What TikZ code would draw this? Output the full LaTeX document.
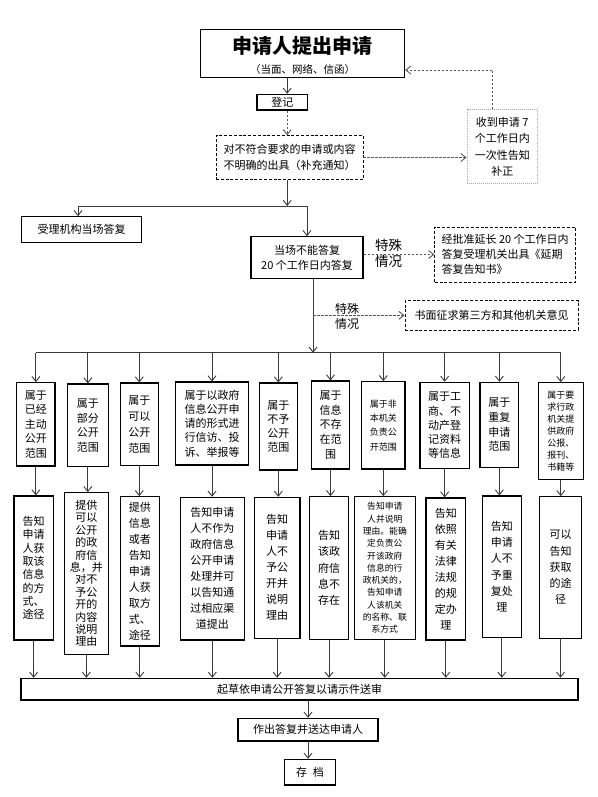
\documentclass[tikz,border=0pt]{standalone}
\usepackage{fontspec}
\setmainfont{Noto Sans CJK SC}
\usetikzlibrary{arrows.meta}
\definecolor{lncol}{HTML}{3A3A3A}
\definecolor{dlcol}{HTML}{555555}
\definecolor{blcol}{HTML}{8EA9DB}
\tikzset{
 box/.style={draw=black, line width=1.1pt, inner sep=0pt, align=center, font=\fontsize{11}{14.5}\selectfont},
 dbox/.style={box, dash pattern=on 3pt off 1.8pt, line width=0.9pt},
 conn/.style={draw=lncol, line width=0.9pt},
 arr/.style={conn, -{Straight Barb[length=5pt,width=8pt]}},
 darr/.style={arr, draw=dlcol, dash pattern=on 2.5pt off 1.5pt},
 lbl/.style={inner sep=0pt, align=center},
}
\begin{document}
\begin{tikzpicture}[x=1pt,y=-1pt]
\useasboundingbox (0,0) rectangle (597,797);
% top
\node[box, line width=1.3pt, minimum width=204pt, minimum height=48pt] (top) at (302.5,53.3) {};
\node[lbl, font=\fontsize{20}{20}\selectfont\bfseries] (title) at (302.5,45.7) {申请人提出申请};
\node[lbl, font=\fontsize{10.5}{12}\selectfont] (sub) at (302.5,70) {（当面、网络、信函）};
\coordinate (ax) at (287.2,0);
\node[box, minimum width=50.5pt, minimum height=15.7pt] (dj) at (282.25,102.2) {登记};
\draw[arr] (top.south -| ax) -- (dj.north -| ax);
\node[dbox, minimum width=147pt, minimum height=43.6pt, font=\fontsize{11}{15.7}\selectfont] (tz) at (289.5,157.5) {对不符合要求的申请或内容\\不明确的出具（补充通知）};
\draw[darr] (dj.south -| ax) -- (tz.north -| ax);
\node[box, draw=blcol, dash pattern=on 1pt off 1pt, line width=1pt, minimum width=70.5pt, minimum height=73.3pt, font=\fontsize{11}{16.5}\selectfont] (bz) at (502.25,146.65) {收到申请 7\\个工作日内\\一次性告知\\补正};
\draw[darr] (tz.east) -- (tz.east -| bz.west);
\draw[darr] ([xshift=-9.5pt]bz.north) |- ([yshift=-16.7pt]top.east);
% split
\coordinate (sp) at (287.2,206);
\draw[arr] (tz.south -| ax) -- (sp);
\node[box, minimum width=120.3pt, minimum height=25.6pt] (sl) at (81.55,229.5) {受理机构当场答复};
\node[box, minimum width=112pt, minimum height=41.6pt, font=\fontsize{11}{15}\selectfont] (dc) at (307,257.5) {当场不能答复\\20 个工作日内答复};
\coordinate (slt) at ([xshift=-3.5pt]sl.north);
\draw[conn] (slt |- sp) -- (dc.north |- sp);
\draw[arr] (slt |- sp) -- (slt);
\draw[arr] (dc.north |- sp) -- (dc.north);
% special 1
\node[lbl, font=\fontsize{13.5}{15.5}\selectfont] (ts1) at (388.5,253.5) {特殊\\情况};
\node[dbox, minimum width=140.9pt, minimum height=55pt, font=\fontsize{11}{15}\selectfont, align=left] (jp) at (505.15,254.5) {经批准延长 20 个工作日内\\答复受理机关出具《延期\\答复告知书》};
\draw[darr] (jp.west -| dc.east) -- (jp.west);
% special 2
\coordinate (dcs) at ([xshift=6pt]dc.south);
\coordinate (hy) at (0,352.7);
\coordinate (hb) at (dcs |- hy);
\draw[arr] (dcs) -- (hb);
\node[lbl, font=\fontsize{12}{15}\selectfont] (ts2) at (347,316.5) {特殊\\情况};
\node[dbox, minimum width=173pt, minimum height=29.3pt] (sm) at (491.5,315.35) {书面征求第三方和其他机关意见};
\draw[darr] (sm.west -| dcs) -- (sm.west);
% row 1
\node[box, minimum width=38.3pt, minimum height=83.3pt] (r1) at (35.85,424.35) {属于\\已经\\主动\\公开\\范围};
\node[box, minimum width=41pt, minimum height=82.7pt] (r2) at (87.8,425.35) {属于\\部分\\公开\\范围};
\node[box, minimum width=38pt, minimum height=82.7pt, font=\fontsize{11}{16}\selectfont] (r3) at (139.3,424.35) {属于\\可以\\公开\\范围};
\node[box, minimum width=72.6pt, minimum height=83pt, font=\fontsize{11}{14.2}\selectfont] (r4) at (212,423.5) {属于以政府\\信息公开申\\请的形式进\\行信访、投\\诉、举报等};
\node[box, minimum width=38pt, minimum height=87pt, font=\fontsize{11}{14}\selectfont] (r5) at (278.3,426.5) {属于\\不予\\公开\\范围};
\node[box, minimum width=37.6pt, minimum height=88pt, font=\fontsize{11}{14.6}\selectfont] (r6) at (330.5,425) {属于\\信息\\不存\\在范\\围};
\node[box, minimum width=43.3pt, minimum height=87.3pt, font=\fontsize{9}{14.3}\selectfont] (r7) at (383.35,425.35) {属于非\\本机关\\负责公\\开范围};
\node[box, minimum width=49.3pt, minimum height=86pt, font=\fontsize{11}{14.2}\selectfont] (r8) at (444.65,425.3) {属于工\\商、不\\动产登\\记资料\\等信息};
\node[box, minimum width=38.7pt, minimum height=85pt, font=\fontsize{11}{14.7}\selectfont] (r9) at (499.35,424.8) {属于\\重复\\申请\\范围};
\node[box, minimum width=45pt, minimum height=96.6pt, font=\fontsize{9}{12}\selectfont] (r10) at (560.8,431) {属于要\\求行政\\机关提\\供政府\\公报、\\报刊、\\书籍等};
% row 2
\node[box, minimum width=39.3pt, minimum height=144pt, font=\fontsize{11}{13.3}\selectfont] (s1) at (33.65,568) {告知\\申请\\人获\\取该\\信息\\的方\\式、\\途径};
\node[box, minimum width=44pt, minimum height=161.6pt, font=\fontsize{11}{12.4}\selectfont] (s2) at (86.3,573.5) {提供\\可以\\公开\\的政\\府信\\息，并\\对不\\予公\\开的\\内容\\说明\\理由};
\node[box, minimum width=39pt, minimum height=149.3pt, font=\fontsize{11}{16}\selectfont] (s3) at (139.8,571.35) {提供\\信息\\或者\\告知\\申请\\人获\\取方\\式、\\途径};
\node[box, minimum width=64pt, minimum height=142.7pt, font=\fontsize{11}{16}\selectfont] (s4) at (212.3,568.65) {告知申请\\人不作为\\政府信息\\公开申请\\处理并可\\以告知通\\过相应渠\\道提出};
\node[box, minimum width=45.7pt, minimum height=141pt, font=\fontsize{11}{16}\selectfont] (s5) at (277.15,567.8) {告知\\申请\\人不\\予公\\开并\\说明\\理由};
\node[box, minimum width=39.4pt, minimum height=142.6pt, font=\fontsize{11}{16.25}\selectfont] (s6) at (329,568) {告知\\该政\\府信\\息不\\存在};
\node[box, minimum width=61pt, minimum height=142.6pt, font=\fontsize{8.8}{12.3}\selectfont] (s7) at (384.8,568) {告知申请\\人并说明\\理由。能确\\定负责公\\开该政府\\信息的行\\政机关的，\\告知申请\\人该机关\\的名称、联\\系方式};
\node[box, minimum width=39.7pt, minimum height=142pt, font=\fontsize{11}{16}\selectfont] (s8) at (445.85,569) {告知\\依照\\有关\\法律\\法规\\的规\\定办\\理};
\node[box, minimum width=39pt, minimum height=141.3pt, font=\fontsize{11}{16.3}\selectfont] (s9) at (501.8,566.65) {告知\\申请\\人不\\予重\\复处\\理};
\node[box, minimum width=42.4pt, minimum height=141.6pt, font=\fontsize{11}{16.25}\selectfont] (s10) at (560.5,567.5) {可以\\告知\\获取\\的途\\径};
% bottom
\node[box, minimum width=557pt, minimum height=21.7pt] (big) at (299.5,689.15) {起草依申请公开答复以请示件送审};
\node[box, minimum width=140pt, minimum height=22.7pt] (zf) at (308,729.65) {作出答复并送达申请人};
\node[box, minimum width=50.8pt, minimum height=25.7pt] (cd) at (310,772.15) {存\hspace{6pt}档};
% connectors rows
\draw[conn] (r1.north |- hb) -- (r10.north |- hb);
\foreach \i in {1,...,10} {
  \draw[arr] (r\i.north |- hb) -- (r\i.north);
  \draw[arr] (r\i.south) -- (r\i.south |- s\i.north);
  \draw[arr] (s\i.south) -- (s\i.south |- big.north);
}
\draw[arr] (big.south -| zf.north) -- (zf.north);
\draw[arr] (zf.south) -- (zf.south |- cd.north);
\end{tikzpicture}
\end{document}
